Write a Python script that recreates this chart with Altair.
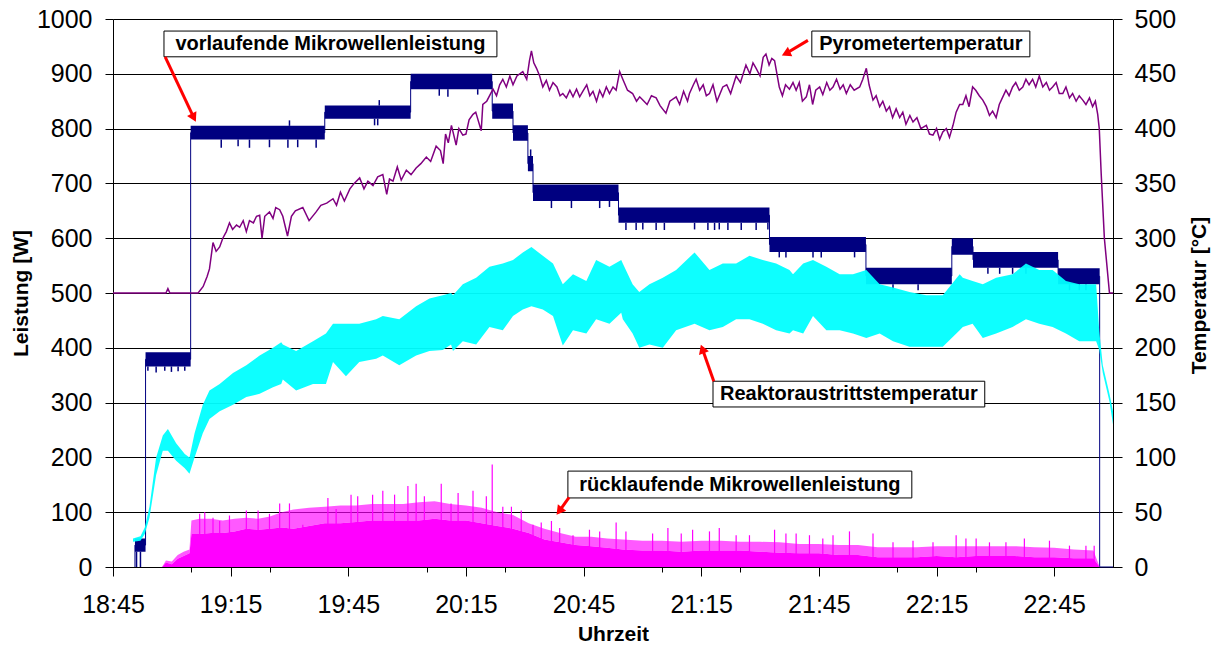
import altair as alt
import pandas as pd
import json

FONT = "Liberation Sans"

# ---- x axis (minutes after 18:45) ----
x_major = [0, 30, 60, 90, 120, 150, 180, 210, 240]
x_labels = ["18:45", "19:15", "19:45", "20:15", "20:45", "21:15", "21:45", "22:15", "22:45"]
x_minor = list(range(0, 256, 5))

# ---- vorlaufende Mikrowellenleistung [W] (step levels: band low/high) ----
vor_t = [5.6, 8.3, 19.8, 54.0, 75.9, 96.7, 102.0, 105.8, 107.1, 128.9, 167.4, 192.0, 213.9, 219.3, 241.0, 251.6, 255.0]
vor_lo = [28, 366, 780, 818, 872, 818, 778, 722, 668, 628, 575, 516, 570, 546, 516, 0, 0]
vor_hi = [52, 392, 805, 842, 900, 846, 806, 750, 698, 656, 602, 546, 600, 575, 545, 0, 0]
# downward/upward noise spikes of the forward power
vsp_t = [6.0, 7.0, 8.9, 11.0, 13.2, 14.9, 16.6, 18.3, 27.6, 31.9, 34.8, 39.9, 44.6, 45.0, 47.1, 51.8,
         66.7, 67.5, 67.9, 83.2, 85.4, 93.0, 106.5, 111.8, 116.9, 124.1, 126.6,
         130.8, 133.4, 135.1, 138.5, 140.6, 148.3, 151.7, 153.4, 154.6, 156.8, 160.2, 164.0, 167.0,
         169.9, 171.6, 178.5, 180.6, 189.1, 198.9, 205.3, 223.1, 226.1, 229.4, 232.8, 243.9, 246.4, 248.1]
vsp_base = [28, 28, 366, 366, 366, 366, 366, 366, 780, 780, 780, 780, 780, 805, 780, 780,
            818, 818, 842, 872, 872, 872, 750, 668, 668, 668, 668,
            628, 628, 628, 628, 628, 628, 628, 628, 628, 628, 628, 628, 628,
            575, 575, 575, 575, 575, 516, 516, 546, 546, 546, 546, 516, 516, 516]
vsp_val = [0, 0, 358, 355, 358, 356, 357, 358, 765, 768, 765, 766, 765, 815, 766, 765,
           806, 806, 852, 860, 858, 862, 762, 655, 655, 655, 657,
           615, 615, 616, 615, 615, 616, 615, 615, 616, 615, 615, 615, 616,
           565, 565, 565, 565, 565, 505, 505, 535, 535, 535, 535, 505, 505, 505]

# ---- rücklaufende Mikrowellenleistung [W] ----
rue_t = [5.1, 12.5, 13.5, 15.0, 16.5, 18.0, 19.5, 20.0, 22, 25, 28, 31, 34, 37, 40, 43, 46, 50, 54, 58, 62,
         66, 70, 74, 78, 82, 86, 90, 94, 98, 102, 106, 110, 114, 118, 122, 126, 130, 135, 140, 145, 150,
         155, 160, 165, 170, 175, 180, 185, 190, 195, 200, 205, 210, 215, 220, 225, 230, 235, 240, 245,
         250, 251.6, 255]
rue_dense = [0, 0, 8, 5, 15, 20, 25, 60, 60, 62, 62, 65, 70, 68, 70, 72, 70, 75, 80, 80, 82,
             85, 85, 85, 85, 88, 85, 85, 80, 75, 70, 62, 50, 45, 40, 38, 35, 32, 30, 30, 28, 30,
             30, 30, 28, 26, 25, 25, 22, 22, 18, 18, 18, 20, 18, 20, 20, 20, 18, 18, 16,
             16, 0, 0]
rue_fringe = [0, 0, 12, 10, 22, 28, 32, 85, 88, 88, 85, 88, 90, 88, 92, 100, 105, 108, 110, 112, 112,
              115, 115, 115, 118, 120, 115, 112, 108, 100, 95, 80, 70, 62, 55, 55, 52, 50, 48, 48, 46, 48,
              48, 46, 46, 45, 42, 42, 40, 40, 36, 36, 36, 38, 38, 38, 38, 38, 36, 35, 32,
              30, 0, 0]
rsp_t = [22.1, 23.4, 25.5, 27.2, 29.7, 34.0, 37.0, 39.9, 42.5, 45.0, 48.4, 54.8, 56.9, 60.7, 62.4, 66.2,
         68.8, 71.8, 75.2, 77.3, 79.4, 83.7, 86.2, 88.0, 91.8, 95.2, 96.7, 99.4, 101.6, 104.1, 107.1,
         109.2, 111.8, 113.9, 117.3, 121.5, 124.1, 128.3, 130.8, 137.6, 141.5, 144.9, 147.8, 152.1,
         154.6, 158.9, 162.3, 168.7, 171.6, 174.2, 177.6, 181.0, 183.6, 187.8, 193.8, 198.9, 204.0,
         209.1, 215.0, 217.5, 220.1, 223.5, 227.7, 232.4, 238.8, 243.9, 248.1, 250.2]
rsp_v = [97, 100, 90, 84, 94, 103, 103, 97, 116, 116, 77, 126, 106, 132, 129, 132,
         139, 132, 148, 152, 129, 152, 116, 135, 139, 129, 187, 110, 110, 103, 77,
         81, 84, 71, 58, 68, 65, 81, 65, 61, 71, 61, 68, 65,
         71, 58, 58, 68, 61, 61, 58, 52, 58, 65, 61, 45, 48,
         45, 58, 52, 52, 45, 45, 52, 48, 39, 39, 39]

# ---- Pyrometertemperatur [°C] ----
pyr_t = [0, 13.5, 14.0, 14.5, 21.7, 23.0, 24.0, 24.6, 25.2, 25.5, 26.3, 27.2, 28.0, 28.9, 29.7, 30.5, 31.5,
         32.3, 33.2, 34.0, 34.8, 35.8, 36.6, 37.4, 38.0, 38.7, 39.9, 40.8, 41.5, 42.5, 43.3, 44.5, 45.5,
         46.5, 48.4, 50.0, 51.8, 53.0, 54.5, 56.1, 57.0, 58.0, 59.0, 60.4, 61.5, 62.9, 64.0, 65.0, 66.3,
         67.5, 68.8, 69.8, 70.5, 71.4, 72.5, 73.5, 74.8, 76.0, 77.3, 78.5, 79.9, 81.0, 82.4, 83.5, 84.2,
         84.8, 85.5, 86.3, 86.7, 87.5, 88.2, 89.2, 90.0, 90.8, 91.8, 92.5, 93.9, 94.3, 95.3, 96.9, 97.8,
         98.6, 99.4, 100.3, 101.2, 102.0, 103.0, 104.5, 105.5, 106.2, 106.7, 107.3, 108.0, 108.8, 109.6,
         110.5, 111.3, 112.2, 113.2, 114.0, 114.7, 115.6, 116.5, 117.3, 118.2, 119.0, 119.8, 120.8, 121.6,
         122.4, 123.3, 124.1, 124.9, 125.8, 126.6, 127.5, 128.3, 129.2, 130.0, 131.2, 132.5, 133.5, 134.3,
         135.1, 136.2, 137.3, 138.5, 139.5, 141.0, 142.0, 143.6, 144.5, 145.5, 146.5, 147.0, 148.0, 148.7,
         149.6, 150.5, 151.3, 152.1, 153.0, 154.0, 155.5, 156.5, 157.5, 158.9, 160.0, 161.4, 162.4, 163.2,
         164.0, 165.0, 165.8, 166.5, 167.3, 168.0, 168.7, 169.3, 169.9, 170.7, 171.5, 172.5, 173.4, 174.2,
         175.0, 175.8, 176.8, 177.6, 178.4, 179.2, 180.2, 181.0, 182.0, 182.8, 183.6, 184.5, 185.4, 186.2,
         187.0, 188.0, 189.0, 190.4, 191.2, 192.1, 192.8, 193.8, 194.6, 195.5, 196.3, 197.2, 198.0, 198.8,
         199.7, 200.6, 201.4, 202.2, 203.2, 204.0, 205.0, 206.0, 207.4, 208.2, 209.1, 210.0, 210.8, 211.6,
         212.5, 213.3, 214.2, 215.0, 215.9, 216.7, 217.5, 218.3, 219.2, 220.0, 220.9, 221.8, 222.7, 223.5,
         224.3, 225.2, 226.0, 226.9, 227.7, 228.5, 229.4, 230.2, 231.1, 232.0, 232.8, 233.6, 234.5, 235.3,
         236.2, 237.1, 238.0, 238.8, 239.6, 240.5, 241.3, 242.2, 243.0, 243.9, 244.7, 245.6, 246.4, 247.3,
         248.1, 249.0, 249.8, 250.5, 251.1, 251.5, 252.0, 252.8, 254.1, 255.0]
pyr_c = [250, 250, 254, 250, 250, 256, 265, 272, 288, 296, 288, 292, 300, 306, 314, 308, 312,
         310, 316, 306, 316, 314, 320, 321, 300, 320, 324, 318, 328, 326, 320, 302, 320,
         325, 328, 316, 324, 330, 332, 336, 330, 342, 334, 345, 350, 355, 345, 352, 348,
         356, 358, 340, 354, 352, 365, 353, 362, 358, 364, 368, 374, 370, 384, 380, 368,
         395, 387, 403, 397, 385, 400, 394, 395, 408, 413, 415, 398, 422, 425, 436, 430,
         440, 445, 438, 448, 440, 448, 452, 445, 462, 471, 460, 455, 448, 438,
         444, 435, 442, 438, 430, 432, 428, 435, 429, 436, 429, 434, 440, 430,
         434, 425, 435, 429, 438, 432, 438, 435, 452, 445, 435, 432, 425, 429,
         426, 422, 430, 428, 421, 414, 425, 429, 422, 434, 425, 432, 440, 445,
         435, 440, 430, 432, 440, 425, 438, 440, 432, 448, 442, 458, 450, 460,
         455, 448, 465, 468, 458, 464, 462, 450, 438, 430, 440, 436, 442, 435,
         442, 425, 429, 440, 422, 435, 438, 431, 442, 435, 438, 445, 436, 440,
         432, 440, 435, 438, 445, 455, 440, 426, 430, 420, 425, 416, 420, 410,
         418, 410, 415, 404, 412, 406, 410, 400, 403, 395, 394, 400, 390, 397,
         400, 392, 403, 415, 422, 422, 430, 420, 438, 435, 430, 426, 420, 412,
         416, 410, 422, 429, 435, 430, 438, 442, 435, 438, 445, 440, 445, 438,
         448, 438, 442, 435, 438, 442, 432, 432, 438, 428, 432, 425, 430, 426,
         422, 428, 420, 425, 413, 400, 358, 300, 250, 250]

# ---- Reaktoraustrittstemperatur [°C] (noise band low/high) ----
rea_t = [5.1, 7.0, 8.1, 9.3, 11.0, 12.7, 14.0, 16.1, 18.3, 19.5, 20.8, 22.9, 24.6, 27.2, 30.6, 34.0, 37.4,
         40.8, 42.9, 43.3, 46.7, 51.0, 54.3, 56.1, 59.4, 62.8, 67.1, 68.8, 73.0, 77.3, 80.7, 84.1, 86.2,
         86.7, 89.2, 92.6, 96.0, 99.4, 102.0, 104.5, 106.7, 109.6, 112.2, 114.7, 117.3, 120.7, 123.2,
         126.6, 129.6, 130.0, 132.5, 134.2, 136.8, 140.2, 143.6, 148.3, 152.1, 155.5, 158.9, 162.3,
         165.7, 169.1, 172.5, 173.4, 176.0, 178.5, 181.9, 185.3, 188.7, 192.1, 195.5, 198.9, 203.1,
         207.4, 211.6, 215.9, 216.7, 219.2, 221.8, 225.2, 229.4, 232.8, 236.2, 239.6, 243.0, 246.4,
         250.7, 251.5, 252.4, 254.1, 255.0]
rea_lo = [23, 24, 30, 45, 84, 106, 106, 97, 90, 85, 100, 122, 135, 142, 148, 155, 158,
          164, 167, 171, 161, 167, 167, 187, 174, 187, 190, 193, 184, 193, 197, 198, 203,
          197, 206, 203, 219, 216, 229, 235, 238, 235, 229, 202, 216, 213, 226,
          222, 232, 226, 213, 200, 203, 200, 216, 222, 216, 219, 226, 226,
          222, 216, 213, 216, 213, 229, 216, 216, 213, 209, 213, 206, 201,
          201, 201, 216, 219, 222, 209, 213, 219, 226, 222, 219, 213, 206,
          206, 198, 177, 151, 130]
rea_hi = [26, 28, 36, 55, 100, 120, 126, 113, 103, 100, 122, 148, 161, 167, 177, 184, 193,
          200, 205, 203, 197, 206, 213, 222, 222, 222, 226, 229, 226, 238, 245, 248, 250,
          248, 258, 264, 274, 277, 280, 287, 292, 284, 277, 258, 267, 261, 280,
          274, 280, 277, 258, 251, 258, 264, 271, 287, 271, 277, 277, 284,
          280, 277, 271, 267, 277, 280, 274, 267, 267, 271, 258, 255, 251,
          248, 248, 267, 264, 261, 258, 264, 267, 277, 271, 271, 261, 258,
          258, 215, 184, 158, 142]

# ---- annotations (data coordinates: minutes, W) ----
ann_text = ["vorlaufende Mikrowellenleistung", "Pyrometertemperatur",
            "Reaktoraustrittstemperatur", "rücklaufende Mikrowellenleistung"]
ann_x1 = [13.0, 178.2, 153.0, 116.0]
ann_x2 = [97.9, 233.8, 222.3, 203.7]
ann_y1 = [931, 931, 292, 126]
ann_y2 = [978, 978, 339, 175]
arr_x1 = [13.3, 177.2, 153.2, 116.3]
arr_y1 = [931, 961, 339, 127]
arr_x2 = [20.6, 171.6, 150.3, 113.8]
arr_y2 = [820, 937, 398, 102]
arr_ang = [153, 245, 340, 217]

# ---------------- data frames ----------------
df_vor = pd.DataFrame({"t": vor_t, "lo": vor_lo, "hi": vor_hi})
df_vor["mid"] = (df_vor["lo"] + df_vor["hi"]) / 2
line_vor = pd.concat([pd.DataFrame({"t": [vor_t[0]], "mid": [0.0]}), df_vor[["t", "mid"]]],
                     ignore_index=True)
line_vor["i"] = range(len(line_vor))
df_vsp = pd.DataFrame({"t": vsp_t, "base": vsp_base, "v": vsp_val})
df_rue = pd.DataFrame({"t": rue_t, "dense": rue_dense, "fringe": rue_fringe})
df_rsp = pd.DataFrame({"t": rsp_t, "v": rsp_v})
df_pyr = pd.DataFrame({"t": pyr_t, "c": pyr_c})
df_rea = pd.DataFrame({"t": rea_t, "lo": rea_lo, "hi": rea_hi})
df_ann = pd.DataFrame({"txt": ann_text, "x1": ann_x1, "x2": ann_x2, "y1": ann_y1, "y2": ann_y2})
df_ann["xm"] = (df_ann["x1"] + df_ann["x2"]) / 2
df_ann["ym"] = (df_ann["y1"] + df_ann["y2"]) / 2
df_arr = pd.DataFrame({"x1": arr_x1, "y1": arr_y1, "x2": arr_x2, "y2": arr_y2, "ang": arr_ang})

xs = alt.Scale(domain=[0, 255], nice=False, zero=False)
ysW = alt.Scale(domain=[0, 1000], nice=False, zero=False)
ysC = alt.Scale(domain=[0, 500], nice=False, zero=False)

label_expr = json.dumps(x_labels) + "[round(datum.value / 30)]"
ax_major = alt.Axis(values=x_major, labelExpr=label_expr, title="Uhrzeit", grid=False,
                    tickSize=9, tickColor="black", domainColor="black", labelFontSize=25,
                    labelFont=FONT, labelColor="black", labelPadding=16, titleFont=FONT,
                    titleFontSize=21, titleFontWeight="bold", titleColor="black",
                    titleX=500, titleY=67, titleAlign="center", titleBaseline="middle",
                    orient="bottom", labelFlush=False)
ax_minor = alt.Axis(values=x_minor, labels=False, title=None, grid=False, tickSize=5,
                    tickColor="black", domainColor="black", orient="bottom")

ax_left = alt.Axis(values=list(range(0, 1001, 100)), format="d", title="Leistung [W]", grid=True,
                   gridColor="black", gridWidth=1, tickSize=8, tickColor="black",
                   domainColor="black", labelFontSize=25, labelFont=FONT, labelColor="black",
                   labelPadding=13, titleFont=FONT, titleFontSize=21, titleFontWeight="bold",
                   titleColor="black", titleX=-92, titleY=274, titleAngle=270,
                   titleAlign="center", titleBaseline="middle", orient="left")
ax_right = alt.Axis(values=list(range(0, 501, 50)), format="d", title="Temperatur [°C]", grid=False,
                    tickSize=9, tickColor="black", domainColor="black", labelFontSize=25,
                    labelFont=FONT, labelColor="black", labelPadding=12, titleFont=FONT,
                    titleFontSize=21, titleFontWeight="bold", titleColor="black",
                    titleX=86, titleY=276, titleAngle=270, titleAlign="center",
                    titleBaseline="middle", orient="right")

NAVY = "#000080"
MAG = "#FF00FF"
CYAN = "#00FFFF"
PURP = "#800080"

# ---- left (W) group ----
vor_band = alt.Chart(df_vor).mark_area(color=NAVY, interpolate="step-after").encode(
    x=alt.X("t:Q", scale=xs, axis=ax_major),
    y=alt.Y("hi:Q", scale=ysW, axis=ax_left),
    y2="lo:Q")
vor_line = alt.Chart(line_vor).mark_line(color=NAVY, strokeWidth=1, interpolate="step-after").encode(
    x=alt.X("t:Q", scale=xs), y=alt.Y("mid:Q", scale=ysW), order="i:Q")
vor_spk = alt.Chart(df_vsp).mark_rule(color=NAVY, strokeWidth=1.5).encode(
    x=alt.X("t:Q", scale=xs), y=alt.Y("base:Q", scale=ysW), y2="v:Q")
rue_fr = alt.Chart(df_rue).mark_area(color=MAG, opacity=0.65).encode(
    x=alt.X("t:Q", scale=xs), y=alt.Y("fringe:Q", scale=ysW), y2="dense:Q")
rue_ar = alt.Chart(df_rue).mark_area(color=MAG).encode(
    x=alt.X("t:Q", scale=xs), y=alt.Y("dense:Q", scale=ysW), y2=alt.datum(0))
rue_spk = alt.Chart(df_rsp).mark_rule(color=MAG, strokeWidth=1.2).encode(
    x=alt.X("t:Q", scale=xs), y=alt.Y("v:Q", scale=ysW), y2=alt.datum(0))
left = alt.layer(vor_band, vor_line, vor_spk, rue_fr, rue_ar, rue_spk)

# ---- right (°C) group ----
rea_band = alt.Chart(df_rea).mark_area(color=CYAN, opacity=0.95).encode(
    x=alt.X("t:Q", scale=xs, axis=ax_minor),
    y=alt.Y("hi:Q", scale=ysC, axis=ax_right),
    y2="lo:Q")
pyr_line = alt.Chart(df_pyr).mark_line(color=PURP, strokeWidth=1.5).encode(
    x=alt.X("t:Q", scale=xs), y=alt.Y("c:Q", scale=ysC))
right = alt.layer(rea_band, pyr_line)

# ---- annotations ----
boxes = alt.Chart(df_ann).mark_rect(fill="white", stroke="black", strokeWidth=1).encode(
    x=alt.X("x1:Q", scale=xs, axis=None), x2="x2:Q",
    y=alt.Y("y1:Q", scale=ysW, axis=None), y2="y2:Q")
texts = alt.Chart(df_ann).mark_text(font=FONT, fontSize=20, fontWeight="bold", color="black",
                                    align="center", baseline="middle").encode(
    x=alt.X("xm:Q", scale=xs), y=alt.Y("ym:Q", scale=ysW), text="txt:N")
arr_l = alt.Chart(df_arr).mark_rule(color="#FF0000", strokeWidth=3).encode(
    x=alt.X("x1:Q", scale=xs), y=alt.Y("y1:Q", scale=ysW), x2="x2:Q", y2="y2:Q")
arr_h = alt.Chart(df_arr).mark_point(shape="triangle-up", filled=True, color="#FF0000",
                                     size=110, opacity=1).encode(
    x=alt.X("x2:Q", scale=xs), y=alt.Y("y2:Q", scale=ysW),
    angle=alt.Angle("ang:Q", scale=None))
ann = alt.layer(boxes, texts, arr_l, arr_h)

chart = alt.layer(left, right, ann).resolve_scale(y="independent").resolve_axis(
    x="independent", y="independent").properties(
    width=1000, height=548,
    autosize=alt.AutoSizeParams(type="none"),
    padding={"left": 105, "top": 11, "right": 99, "bottom": 76},
).configure_view(stroke=None).configure(background="white")

chart.save("out.html", embed_options={"renderer": "svg", "actions": False})
